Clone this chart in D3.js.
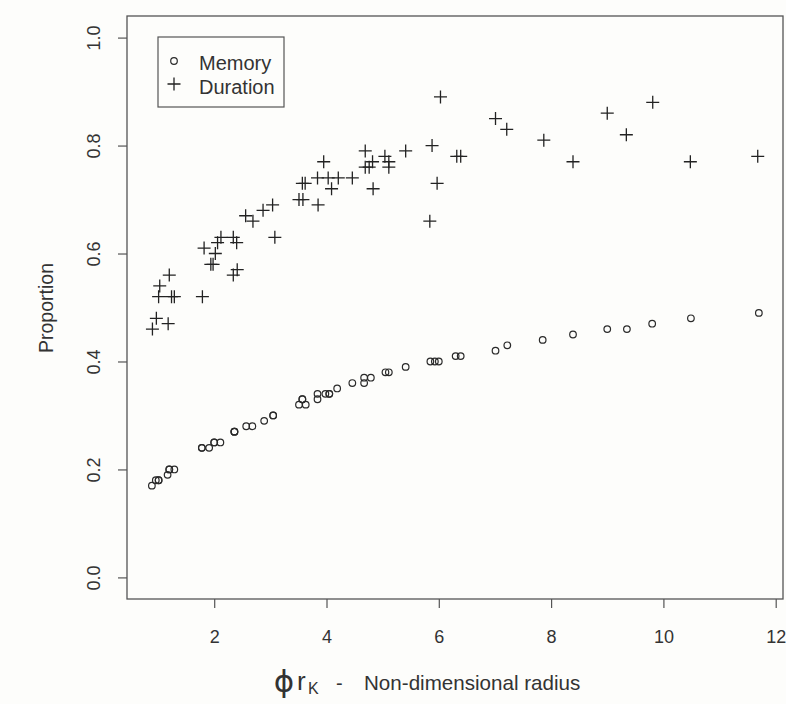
<!DOCTYPE html>
<html>
<head>
<meta charset="utf-8">
<script src="https://cdn.jsdelivr.net/npm/d3@7"></script>
<style>
  html, body { margin: 0; padding: 0; background: #fdfdfb; }
  svg { display: block; }
  text { font-family: "Liberation Sans", Arial, sans-serif; fill: #333; }
</style>
</head>
<body>
<svg id="chart" width="786" height="704"></svg>
<script>
// ---- Data ----
const memoryX = [0.89, 0.96, 1.01, 1.01, 1.17, 1.20, 1.20, 1.29, 1.78, 1.78, 1.91, 2.00, 2.00, 2.11,
  2.36, 2.36, 2.36, 2.57, 2.68, 2.89, 3.05, 3.05, 3.51, 3.63, 3.57, 3.57, 3.84, 3.84, 3.98, 4.05, 4.05,
  4.19, 4.46, 4.67, 4.79, 4.67, 5.05, 5.11, 5.41, 5.85, 5.93, 6.00, 6.30, 6.39, 7.01, 7.22, 7.85, 8.39,
  9.00, 9.35, 9.80, 10.49, 11.70];
const memoryY = [0.17, 0.18, 0.18, 0.18, 0.19, 0.20, 0.20, 0.20, 0.24, 0.24, 0.24, 0.25, 0.25, 0.25,
  0.27, 0.27, 0.27, 0.28, 0.28, 0.29, 0.30, 0.30, 0.32, 0.32, 0.33, 0.33, 0.33, 0.34, 0.34, 0.34, 0.34,
  0.35, 0.36, 0.37, 0.37, 0.36, 0.38, 0.38, 0.39, 0.40, 0.40, 0.40, 0.41, 0.41, 0.42, 0.43, 0.44, 0.45,
  0.46, 0.46, 0.47, 0.48, 0.49];

const durationX = [0.90, 0.97, 1.18, 1.01, 1.03, 1.20, 1.24, 1.29, 1.79, 1.82, 1.94, 1.98, 2.02, 2.06,
  2.12, 2.34, 2.40, 2.34, 2.41, 2.56, 2.69, 2.87, 3.04, 3.08, 3.57, 3.62, 3.51, 3.58, 3.85, 3.84, 4.03,
  3.95, 4.09, 4.21, 4.46, 4.69, 4.69, 4.76, 4.82, 4.83, 5.04, 5.11, 5.11, 5.41, 5.88, 5.97, 5.84, 6.03,
  6.32, 6.39, 7.01, 7.21, 7.87, 8.39, 9.00, 9.34, 9.81, 10.48, 11.68];
const durationY = [0.46, 0.48, 0.47, 0.52, 0.54, 0.56, 0.52, 0.52, 0.52, 0.61, 0.58, 0.58, 0.60, 0.62,
  0.63, 0.63, 0.62, 0.56, 0.57, 0.67, 0.66, 0.68, 0.69, 0.63, 0.73, 0.73, 0.70, 0.70, 0.69, 0.74, 0.74,
  0.77, 0.72, 0.74, 0.74, 0.79, 0.76, 0.76, 0.77, 0.72, 0.78, 0.77, 0.76, 0.79, 0.80, 0.73, 0.66, 0.89,
  0.78, 0.78, 0.85, 0.83, 0.81, 0.77, 0.86, 0.82, 0.88, 0.77, 0.78];

const xTicks = [2, 4, 6, 8, 10, 12];
const yTicks = [0.0, 0.2, 0.4, 0.6, 0.8, 1.0];
const seriesNames = ["Memory", "Duration"];
const yLabel = "Proportion";

// ---- Layout ----
const svg = d3.select("#chart");
const plot = { left: 127, right: 783, top: 16, bottom: 599 };
const ink = "#2a2a2a";
const frame = "#555";

svg.append("rect").attr("width", 786).attr("height", 704).attr("fill", "#fdfdfb");

const x = d3.scaleLinear().domain([0.447, 12.13]).range([plot.left, plot.right]);
const y = d3.scaleLinear().domain([-0.04, 1.04]).range([plot.bottom, plot.top]);

// Axes
const xAxis = svg.append("g")
  .attr("transform", `translate(0,${plot.bottom})`)
  .call(d3.axisBottom(x).tickValues(xTicks).tickSize(9).tickFormat(d3.format("d")));
xAxis.select(".domain").remove();
xAxis.selectAll("line").attr("stroke", frame).attr("stroke-width", 1.2);
xAxis.selectAll("text").attr("y", 44).attr("dy", 0)
  .style("font-size", "18px").style("font-family", '"Liberation Sans", Arial, sans-serif').attr("fill", "#333");

const yAxis = svg.append("g")
  .attr("transform", `translate(${plot.left},0)`)
  .call(d3.axisLeft(y).tickValues(yTicks).tickSize(9).tickFormat(d3.format(".1f")));
yAxis.select(".domain").remove();
yAxis.selectAll("line").attr("stroke", frame).attr("stroke-width", 1.2);
yAxis.selectAll("text")
  .attr("transform", "rotate(-90)")
  .attr("x", 0).attr("y", -27).attr("dy", 0)
  .attr("text-anchor", "middle")
  .style("font-size", "18px").style("font-family", '"Liberation Sans", Arial, sans-serif').attr("fill", "#333");

// Plot frame
svg.append("rect")
  .attr("x", plot.left).attr("y", plot.top)
  .attr("width", plot.right - plot.left).attr("height", plot.bottom - plot.top)
  .attr("fill", "none").attr("stroke", frame).attr("stroke-width", 1.3);

// Memory points (open circles)
const memData = memoryX.map((v, i) => ({ x: v, y: memoryY[i] }));
svg.append("g").selectAll("circle").data(memData).join("circle")
  .attr("cx", d => x(d.x)).attr("cy", d => y(d.y)).attr("r", 3.3)
  .attr("fill", "none").attr("stroke", ink).attr("stroke-width", 1.2);

// Duration points (plus signs)
const durData = durationX.map((v, i) => ({ x: v, y: durationY[i] }));
const plusHalf = 6.5;
const plusPath = `M${-plusHalf},0H${plusHalf}M0,${-plusHalf}V${plusHalf}`;
svg.append("g").selectAll("path").data(durData).join("path")
  .attr("transform", d => `translate(${x(d.x)},${y(d.y)})`)
  .attr("d", plusPath)
  .attr("fill", "none").attr("stroke", "#222").attr("stroke-width", 1.3);

// Legend
const lg = svg.append("g");
lg.append("rect").attr("x", 158).attr("y", 37).attr("width", 126).attr("height", 70)
  .attr("fill", "none").attr("stroke", frame).attr("stroke-width", 1.2);
lg.append("circle").attr("cx", 174).attr("cy", 61).attr("r", 3.3)
  .attr("fill", "none").attr("stroke", ink).attr("stroke-width", 1.2);
lg.append("path").attr("transform", "translate(174,84)").attr("d", plusPath)
  .attr("stroke", "#222").attr("stroke-width", 1.3);
lg.append("text").attr("x", 199).attr("y", 70).style("font-size", "20px").text(seriesNames[0]);
lg.append("text").attr("x", 199).attr("y", 94).style("font-size", "20px").text(seriesNames[1]);

// Y axis title
svg.append("text")
  .attr("transform", "translate(53,308) rotate(-90)")
  .attr("text-anchor", "middle")
  .style("font-size", "19.5px")
  .text(yLabel);

// X axis title: ϕ r_K  -  Non-dimensional radius
const xt = svg.append("g");
xt.append("text").attr("x", 284).attr("y", 692).attr("text-anchor", "middle")
  .style("font-family", '"DejaVu Sans", sans-serif').style("font-size", "31px")
  .text("ϕ");
xt.append("text").attr("x", 297).attr("y", 690)
  .style("font-size", "26px").text("r");
xt.append("text").attr("x", 308).attr("y", 694)
  .style("font-size", "16px").text("K");
xt.append("text").attr("x", 336).attr("y", 690)
  .style("font-size", "20px").text("-");
xt.append("text").attr("x", 364).attr("y", 690)
  .style("font-size", "20.6px").text("Non-dimensional radius");
</script>
</body>
</html>
